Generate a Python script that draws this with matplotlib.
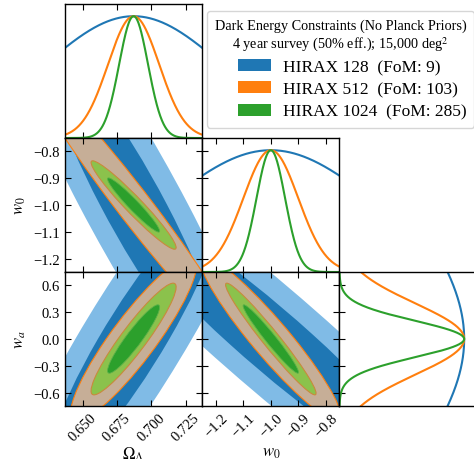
import numpy as np
import matplotlib

matplotlib.use("Agg")
from matplotlib import pyplot
from matplotlib.patches import Ellipse, Patch

pyplot.rcParams["font.family"] = "serif"
pyplot.rcParams["font.serif"] = ["Liberation Serif", "STIXGeneral", "DejaVu Serif"]
pyplot.rcParams["mathtext.fontset"] = "stix"

experiments = ["HIRAX 128", "HIRAX 512", "HIRAX 1024"]
fom = [9, 103, 285]
line_colors = ["#1f77b4", "#ff7f0e", "#2ca02c"]
# (1-sigma fill, 2-sigma fill) per experiment
fill_colors = [("#1f77b4", "#80bbe6"), ("#c6ae97", "#c6ae97"), ("#2ca02c", "#8bc24c")]

# fiducial values
omega_fid = 0.687
w0_fid = -1.0
wa_fid = 0.0

# marginal errors
sigma_1d_omega = [0.0644, 0.0186, 0.0105]
sigma_1d_w0 = [0.365, 0.100, 0.052]
sigma_1d_wa = [1.405, 0.400, 0.204]

om_w0_sx = [0.0411, 0.0296, 0.0125]
om_w0_sy = [0.37, 0.196, 0.0665]
om_w0_rho = [-0.92, -0.978, -0.962]

om_wa_sx = [0.0411, 0.0185, 0.0125]
om_wa_sy = [0.99, 0.37, 0.252]
om_wa_rho = [0.909, 0.90, 0.93]

w0_wa_sx = [0.37, 0.103, 0.0665]
w0_wa_sy = [0.99, 0.37, 0.252]
w0_wa_rho = [-0.953, -0.94, -0.972]

omega_lim = (0.637, 0.737)
w0_lim = (-1.25, -0.75)
wa_lim = (-0.75, 0.75)
omega_ticks = [0.650, 0.675, 0.700, 0.725]
w0_ticks = [-1.2, -1.1, -1.0, -0.9, -0.8]
wa_ticks = [-0.6, -0.3, 0.0, 0.3, 0.6]

# 1 and 2 sigma contours for 2 parameters
k_1sig = 1.52
k_2sig = 2.48


def _cov(sx, sy, rho):
    return np.array([[sx**2, rho * sx * sy], [rho * sx * sy, sy**2]])


def _ellipse(ax, center, cov, k, facecolor, edgecolor, lw=0.8):
    vals, vecs = np.linalg.eigh(cov)
    angle = np.degrees(np.arctan2(vecs[1, 1], vecs[0, 1]))
    ax.add_patch(
        Ellipse(
            center,
            2 * k * np.sqrt(vals[1]),
            2 * k * np.sqrt(vals[0]),
            angle=angle,
            facecolor=facecolor,
            edgecolor=edgecolor,
            lw=lw,
        )
    )


def _gauss(x, mu, sigma):
    return np.exp(-0.5 * ((x - mu) / sigma) ** 2)


def _minus(vals, fmt):
    return [fmt.format(v).replace("-", "\u2212") for v in vals]


fig = pyplot.figure(figsize=(4.74, 4.60), dpi=100)
w, h = 0.2895, 0.2913
lefts = [0.1371, 0.4266, 0.7161]
bottoms = [0.6978, 0.4065, 0.1152]

ax_om = fig.add_axes([lefts[0], bottoms[0], w, h])
ax_om_w0 = fig.add_axes([lefts[0], bottoms[1], w, h])
ax_w0 = fig.add_axes([lefts[1], bottoms[1], w, h])
ax_om_wa = fig.add_axes([lefts[0], bottoms[2], w, h])
ax_w0_wa = fig.add_axes([lefts[1], bottoms[2], w, h])
ax_wa = fig.add_axes([lefts[2], bottoms[2], w, h])

# 2D panels
pairs = [
    (ax_om_w0, (omega_fid, w0_fid), om_w0_sx, om_w0_sy, om_w0_rho),
    (ax_om_wa, (omega_fid, wa_fid), om_wa_sx, om_wa_sy, om_wa_rho),
    (ax_w0_wa, (w0_fid, wa_fid), w0_wa_sx, w0_wa_sy, w0_wa_rho),
]
for ax, center, sx, sy, rho in pairs:
    covs = [_cov(sx[i], sy[i], rho[i]) for i in range(len(experiments))]
    # HIRAX 128
    _ellipse(ax, center, covs[0], k_2sig, fill_colors[0][1], "none")
    _ellipse(ax, center, covs[0], k_1sig, fill_colors[0][0], "none")
    # HIRAX 512
    _ellipse(ax, center, covs[1], k_2sig, fill_colors[1][1], line_colors[1])
    _ellipse(ax, center, covs[1], k_1sig, fill_colors[1][0], "none")
    # HIRAX 1024
    _ellipse(ax, center, covs[2], k_2sig, fill_colors[2][1], "#c98a3c")
    _ellipse(ax, center, covs[2], k_1sig, fill_colors[2][0], "#5bb04a", lw=0.6)

# 1D panels
x_om = np.linspace(*omega_lim, 400)
x_w0 = np.linspace(*w0_lim, 400)
x_wa = np.linspace(*wa_lim, 400)
for i in range(len(experiments)):
    ax_om.plot(x_om, _gauss(x_om, omega_fid, sigma_1d_omega[i]), color=line_colors[i], lw=1.5)
    ax_w0.plot(x_w0, _gauss(x_w0, w0_fid, sigma_1d_w0[i]), color=line_colors[i], lw=1.5)
    ax_wa.plot(_gauss(x_wa, wa_fid, sigma_1d_wa[i]), x_wa, color=line_colors[i], lw=1.5)

for ax in [ax_om_w0, ax_om_wa, ax_w0_wa]:
    ax.tick_params(direction="in", top=True, right=True, length=4, width=0.8, labelsize=10.5)
for ax in fig.axes:
    for s in ax.spines.values():
        s.set_linewidth(1.0)

ax_om.set_xlim(omega_lim)
ax_om.set_ylim(0, 1.1)
ax_om.set_yticks([])
ax_om.set_xticks(omega_ticks)
ax_om.tick_params(axis="x", direction="in", top=True, bottom=True, labelbottom=False, length=4, width=0.8)

ax_w0.set_xlim(w0_lim)
ax_w0.set_ylim(0, 1.1)
ax_w0.set_yticks([])
ax_w0.set_xticks(w0_ticks)
ax_w0.tick_params(axis="x", direction="in", top=True, bottom=True, labelbottom=False, length=4, width=0.8)
sec = ax_w0.secondary_yaxis(
    "left",
    functions=(
        lambda v: w0_lim[0] + v / 1.1 * (w0_lim[1] - w0_lim[0]),
        lambda u: (u - w0_lim[0]) / (w0_lim[1] - w0_lim[0]) * 1.1,
    ),
)
sec.set_yticks(w0_ticks)
sec.tick_params(direction="in", labelleft=False, length=4, width=0.8)

ax_wa.set_ylim(wa_lim)
ax_wa.set_xlim(0, 1.1)
ax_wa.set_xticks([])
ax_wa.set_yticks(wa_ticks)
ax_wa.tick_params(axis="y", direction="in", left=True, right=False, labelleft=False, length=4, width=0.8)

ax_om_w0.set_xlim(omega_lim)
ax_om_w0.set_ylim(w0_lim)
ax_om_w0.set_xticks(omega_ticks)
ax_om_w0.set_yticks(w0_ticks)
ax_om_w0.set_yticklabels(_minus(w0_ticks, "{:.1f}"))
ax_om_w0.tick_params(labelbottom=False)
ax_om_w0.set_ylabel(r"$w_0$", fontsize=12)

ax_om_wa.set_xlim(omega_lim)
ax_om_wa.set_ylim(wa_lim)
ax_om_wa.set_xticks(omega_ticks)
ax_om_wa.set_yticks(wa_ticks)
ax_om_wa.set_xticklabels(_minus(omega_ticks, "{:.3f}"), rotation=45)
ax_om_wa.set_yticklabels(_minus(wa_ticks, "{:.1f}"))
ax_om_wa.set_ylabel(r"$w_a$", fontsize=12)
ax_om_wa.set_xlabel(r"$\Omega_\Lambda$", fontsize=12)
ax_om_wa.xaxis.set_label_coords(0.5, -0.285)

ax_w0_wa.set_xlim(w0_lim)
ax_w0_wa.set_ylim(wa_lim)
ax_w0_wa.set_xticks(w0_ticks)
ax_w0_wa.set_yticks(wa_ticks)
ax_w0_wa.set_xticklabels(_minus(w0_ticks, "{:.1f}"), rotation=45)
ax_w0_wa.tick_params(labelleft=False)
ax_w0_wa.set_xlabel(r"$w_0$", fontsize=12)
ax_w0_wa.xaxis.set_label_coords(0.5, -0.285)

fig.align_ylabels([ax_om_w0, ax_om_wa])

handles = [Patch(facecolor=c) for c in line_colors]
labels = [f"{name}  (FoM: {f})" for name, f in zip(experiments, fom)]
leg = fig.legend(
    handles,
    labels,
    title="Dark Energy Constraints (No Planck Priors)\n4 year survey (50% eff.); 15,000 deg$^2$",
    loc="upper left",
    bbox_to_anchor=(207 / 474, 1 - 12 / 460),
    borderaxespad=0,
    fontsize=12.5,
    title_fontsize=10.3,
    handlelength=1.9,
    handleheight=0.7,
    handletextpad=0.7,
    labelspacing=0.35,
    borderpad=0.45,
    alignment="right",
)
leg.get_title().set_multialignment("center")

fig.savefig("out.png", dpi=100)
